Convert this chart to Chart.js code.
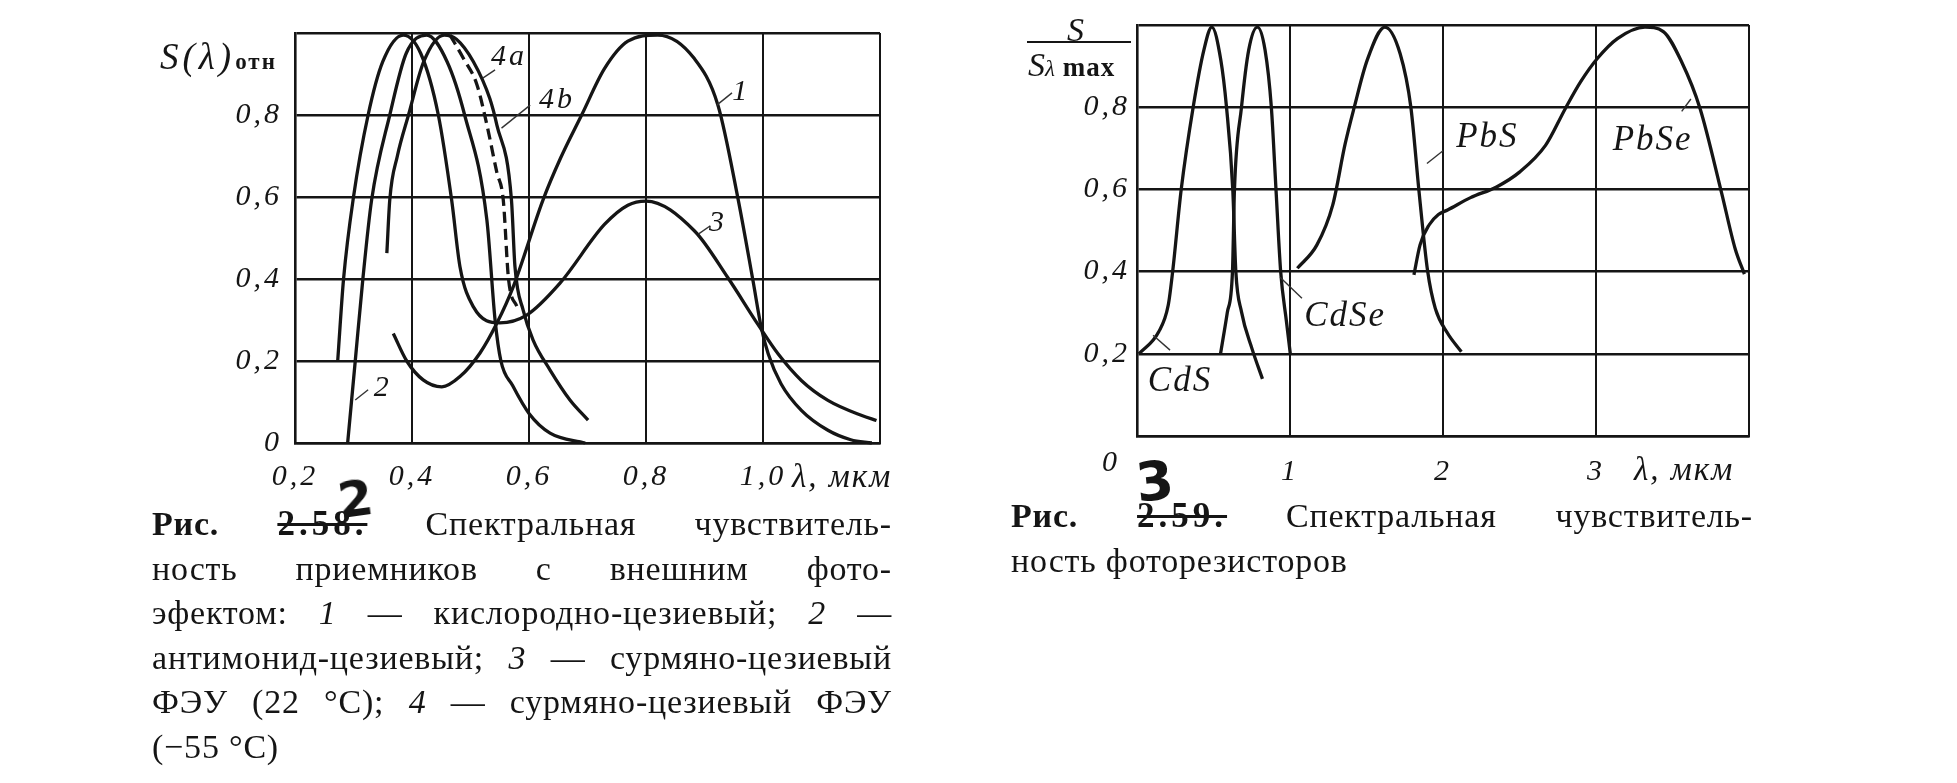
<!DOCTYPE html>
<html>
<head>
<meta charset="utf-8">
<script src="https://cdn.jsdelivr.net/npm/chart.js@4.4.1/dist/chart.umd.min.js"></script>
<style>
  body { margin: 0; background: #fff; width: 1957px; height: 783px; overflow: hidden; position: relative;
         font-family: "Liberation Serif", serif; color: #151515; }
  .box { position: absolute; }
  .t { position: absolute; white-space: nowrap; font-style: italic; font-size: 30px; line-height: 1; letter-spacing: 2px; }
  .cap { position: absolute; font-size: 34px; line-height: 44.6px; letter-spacing: 0.8px; }
  .cap div { text-align: justify; text-align-last: justify; }
  .cap div.last { text-align-last: left; }
  .cap i { font-style: italic; }
  .cap s { font-weight: bold; font-size: 35px; letter-spacing: 4px; text-decoration-thickness: 3px; }
  .hand { position: absolute; font-family: "DejaVu Sans", sans-serif; font-weight: bold; line-height: 1; }
</style>
</head>
<body>

<div class="box" style="left:150px;top:0;width:760px;height:500px"><canvas id="leftChart" width="760" height="500"></canvas></div>
<div class="box" style="left:1000px;top:0;width:790px;height:500px"><canvas id="rightChart" width="790" height="500"></canvas></div>

<!-- axis titles -->
<div class="t" style="left:160px;top:38px;font-size:37px;letter-spacing:4px">S(λ)<span style="font-style:normal;font-weight:bold;font-size:23px;letter-spacing:2px">отн</span></div>
<div class="t" style="left:792px;top:460px;font-size:33px">λ, мкм</div>

<div class="t" style="left:1067px;top:13px;font-size:34px">S</div>
<div style="position:absolute;left:1027px;top:41px;width:104px;height:2px;background:#151515"></div>
<div class="t" style="left:1028px;top:48px;font-size:34px;letter-spacing:0">S<span style="font-size:23px">λ</span><span style="font-style:normal;font-weight:bold;font-size:27px;letter-spacing:1px"> max</span></div>
<div class="t" style="left:1102px;top:446px">0</div>
<div class="t" style="left:1634px;top:453px;font-size:33px">λ, мкм</div>

<!-- captions -->
<div class="hand" style="left:338px;top:474px;font-size:50px;transform:rotate(-8deg)">2</div>
<div class="cap" style="left:152px;top:502px;width:740px">
  <div><b>Рис.</b> <s>2.58.</s> Спектральная чувствитель-</div>
  <div>ность приемников с внешним фото-</div>
  <div>эфектом: <i>1</i> — кислородно-цезиевый; <i>2</i> —</div>
  <div>антимонид-цезиевый; <i>3</i> — сурмяно-цезиевый</div>
  <div>ФЭУ (22 °С); <i>4</i> — сурмяно-цезиевый ФЭУ</div>
  <div class="last">(−55 °С)</div>
</div>

<div class="hand" style="left:1136px;top:455px;font-size:54px;transform:rotate(-6deg)">3</div>
<div class="cap" style="left:1011px;top:494px;width:742px">
  <div><b>Рис.</b> <s>2.59.</s> Спектральная чувствитель-</div>
  <div class="last">ность фоторезисторов</div>
</div>

<script>
// Fig. 2.58 - photocathodes, relative sensitivity vs wavelength (мкм)
let c1Lambda = [0.368, 0.391, 0.419, 0.451, 0.482, 0.516, 0.545, 0.573, 0.624, 0.654, 0.690, 0.729, 0.769,
                0.820, 0.883, 0.923, 0.957, 0.983, 0.997, 1.009, 1.031, 1.066, 1.111, 1.150, 1.186];
let c1S      = [0.267, 0.200, 0.154, 0.137, 0.162, 0.219, 0.292, 0.381, 0.593, 0.695, 0.800, 0.913, 0.980,
                0.995, 0.937, 0.824, 0.598, 0.395, 0.282, 0.217, 0.144, 0.079, 0.031, 0.008, 0.000];

let c2Lambda = [0.290, 0.303, 0.316, 0.331, 0.362, 0.390, 0.425, 0.460, 0.490, 0.528, 0.542, 0.552, 0.572,
                0.600, 0.636, 0.696];
let c2S      = [0.000, 0.200, 0.400, 0.593, 0.800, 0.950, 0.995, 0.930, 0.800, 0.544, 0.300, 0.200, 0.140,
                0.072, 0.024, 0.000];

let c3Lambda = [0.273, 0.283, 0.300, 0.325, 0.350, 0.385, 0.415, 0.445, 0.468, 0.482, 0.505, 0.550, 0.596,
                0.653, 0.729, 0.769, 0.800, 0.883, 0.940, 0.991, 1.026, 1.066, 1.111, 1.169, 1.194];
let c3S      = [0.200, 0.400, 0.600, 0.800, 0.930, 0.995, 0.950, 0.800, 0.590, 0.430, 0.332, 0.293, 0.312,
                0.390, 0.533, 0.580, 0.590, 0.517, 0.403, 0.290, 0.217, 0.152, 0.104, 0.067, 0.055];

let c4aLambda = [0.357, 0.362, 0.375, 0.394, 0.420, 0.455, 0.476, 0.505, 0.533, 0.545, 0.570, 0.576, 0.590,
                 0.607, 0.636, 0.670, 0.701];
let c4aS      = [0.463, 0.593, 0.700, 0.800, 0.930, 0.995, 0.985, 0.930, 0.840, 0.776, 0.593, 0.430, 0.324,
                 0.251, 0.178, 0.105, 0.056];

let c4bLambda = [0.465, 0.488, 0.511, 0.528, 0.545, 0.556, 0.565, 0.580];
let c4bS      = [0.995, 0.938, 0.874, 0.776, 0.660, 0.593, 0.400, 0.330];

// Fig. 2.59 - photoresistors
let cdsLambda = [0.013, 0.141, 0.204, 0.233, 0.289, 0.367, 0.437, 0.489, 0.548, 0.585, 0.626, 0.646, 0.683, 0.752, 0.820];
let cdsS      = [0.200, 0.253, 0.318, 0.400, 0.600, 0.800, 0.939, 0.995, 0.914, 0.800, 0.600, 0.400, 0.302, 0.212, 0.139];

let cdseLambda = [0.546, 0.590, 0.624, 0.637, 0.683, 0.730, 0.787, 0.837, 0.878, 0.909, 0.939, 0.977, 1.002];
let cdseS      = [0.200, 0.300, 0.400, 0.600, 0.800, 0.939, 0.995, 0.939, 0.800, 0.596, 0.400, 0.278, 0.200];

let pbsLambda = [1.048, 1.176, 1.280, 1.360, 1.420, 1.504, 1.620, 1.720, 1.790, 1.843, 1.900, 1.950, 2.030, 2.120];
let pbsS      = [0.408, 0.465, 0.563, 0.710, 0.800, 0.914, 0.995, 0.930, 0.800, 0.596, 0.400, 0.310, 0.250, 0.205];

let pbseLambda = [1.810, 1.850, 1.910, 1.970, 2.030, 2.180, 2.350, 2.500, 2.670, 2.800, 2.900, 3.010, 3.140,
                  3.320, 3.440, 3.560, 3.680, 3.820, 3.910, 3.970];
let pbseS      = [0.392, 0.465, 0.514, 0.539, 0.550, 0.580, 0.606, 0.642, 0.707, 0.797, 0.862, 0.919, 0.967,
                  0.995, 0.984, 0.910, 0.797, 0.593, 0.455, 0.394];

// Ticks
let leftXTicks  = [0.2, 0.4, 0.6, 0.8, 1.0, 1.2];
let leftXLabels = ['0,2', '0,4', '0,6', '0,8', '1,0', ''];
let leftYTicks  = [0, 0.2, 0.4, 0.6, 0.8, 1.0];
let leftYLabels = ['0', '0,2', '0,4', '0,6', '0,8', ''];
let rightXTicks  = [0, 1, 2, 3, 4];
let rightXLabels = ['', '1', '2', '3', ''];
let rightYTicks  = [0, 0.2, 0.4, 0.6, 0.8, 1.0];
let rightYLabels = ['', '0,2', '0,4', '0,6', '0,8', ''];

const INK = '#151515';
const tickFont = { family: 'Liberation Serif', style: 'italic', size: 30 };

function points(xs, ys) {
  return xs.map((v, i) => ({ x: v, y: ys[i] }));
}

function curve(xs, ys, dashed) {
  return {
    data: points(xs, ys),
    borderColor: INK,
    borderWidth: 3.3,
    borderDash: dashed ? [11, 6] : [],
    pointRadius: 0,
    fill: false,
    cubicInterpolationMode: 'monotone',
    clip: false
  };
}

// the scanned figure's italic digits are widely spaced
const spacedText = {
  id: 'spacedText',
  beforeDraw(chart) { chart.ctx.letterSpacing = '3px'; }
};

// draws curve labels and their small leader strokes in data coordinates
const curveLabels = {
  id: 'curveLabels',
  afterDatasetsDraw(chart, args, opts) {
    const ctx = chart.ctx;
    const x = chart.scales.x, y = chart.scales.y;
    ctx.save();
    ctx.strokeStyle = '#333';
    ctx.lineWidth = 1.4;
    (opts.leaders || []).forEach(l => {
      ctx.beginPath();
      ctx.moveTo(x.getPixelForValue(l[0]), y.getPixelForValue(l[1]));
      ctx.lineTo(x.getPixelForValue(l[2]), y.getPixelForValue(l[3]));
      ctx.stroke();
    });
    ctx.fillStyle = INK;
    ctx.textAlign = 'center';
    ctx.textBaseline = 'middle';
    ctx.letterSpacing = (opts.spacing || 2) + 'px';
    (opts.labels || []).forEach(l => {
      ctx.font = 'italic ' + (opts.size || 30) + 'px "Liberation Serif"';
      ctx.fillText(l.text, x.getPixelForValue(l.x), y.getPixelForValue(l.y));
    });
    ctx.restore();
  }
};

function axes(xMin, xMax, xTicks, xLabels, yTicks, yLabels, yWidth, xHeight, yPad, xPad) {
  return {
    x: {
      type: 'linear', min: xMin, max: xMax,
      afterBuildTicks: a => { a.ticks = xTicks.map(v => ({ value: v })); },
      afterFit: a => { a.height = xHeight; },
      ticks: { callback: (v, i) => xLabels[i], font: tickFont, color: INK, padding: xPad, maxRotation: 0, autoSkip: false },
      grid: { color: INK, lineWidth: 2, drawTicks: false },
      border: { display: true, color: INK, width: 2.6 }
    },
    y: {
      type: 'linear', min: 0, max: 1,
      afterBuildTicks: a => { a.ticks = yTicks.map(v => ({ value: v })); },
      afterFit: a => { a.width = yWidth; },
      ticks: { callback: (v, i) => yLabels[i], font: tickFont, color: INK, padding: yPad, autoSkip: false },
      grid: { color: INK, lineWidth: 2.6, drawTicks: false },
      border: { display: true, color: INK, width: 2.6 }
    }
  };
}

new Chart(document.getElementById('leftChart'), {
  type: 'line',
  data: {
    datasets: [
      curve(c1Lambda, c1S),
      curve(c2Lambda, c2S),
      curve(c3Lambda, c3S),
      curve(c4aLambda, c4aS),
      curve(c4bLambda, c4bS, true)
    ]
  },
  options: {
    responsive: false,
    animation: false,
    layout: { padding: { top: 33, right: 30, left: 0, bottom: 0 } },
    scales: axes(0.2, 1.2, leftXTicks, leftXLabels, leftYTicks, leftYLabels, 145, 57, 13, 16),
    plugins: {
      legend: { display: false },
      tooltip: { enabled: false },
      curveLabels: {
        size: 30,
        spacing: 3,
        labels: [
          { text: '1', x: 0.963, y: 0.857 },
          { text: '3', x: 0.923, y: 0.537 },
          { text: '2', x: 0.350, y: 0.135 },
          { text: '4a', x: 0.566, y: 0.941 },
          { text: '4b', x: 0.648, y: 0.837 }
        ],
        leaders: [
          [0.921, 0.824, 0.947, 0.854],
          [0.890, 0.510, 0.910, 0.530],
          [0.303, 0.105, 0.325, 0.130],
          [0.521, 0.890, 0.542, 0.910],
          [0.553, 0.768, 0.602, 0.824]
        ]
      }
    }
  },
  plugins: [spacedText, curveLabels]
});

new Chart(document.getElementById('rightChart'), {
  type: 'line',
  data: {
    datasets: [
      curve(cdsLambda, cdsS),
      curve(cdseLambda, cdseS),
      curve(pbsLambda, pbsS),
      curve(pbseLambda, pbseS)
    ]
  },
  options: {
    responsive: false,
    animation: false,
    layout: { padding: { top: 24, right: 41, left: 0, bottom: 0 } },
    scales: axes(0, 4, rightXTicks, rightXLabels, rightYTicks, rightYLabels, 137, 64, 7, 18),
    plugins: {
      legend: { display: false },
      tooltip: { enabled: false },
      curveLabels: {
        size: 35,
        spacing: 2,
        labels: [
          { text: 'CdS', x: 0.281, y: 0.133 },
          { text: 'CdSe', x: 1.360, y: 0.290 },
          { text: 'PbS', x: 2.290, y: 0.726 },
          { text: 'PbSe', x: 3.370, y: 0.718 }
        ],
        leaders: [
          [0.105, 0.245, 0.216, 0.209],
          [0.935, 0.386, 1.078, 0.335],
          [1.895, 0.663, 2.000, 0.694],
          [3.560, 0.790, 3.620, 0.820]
        ]
      }
    }
  },
  plugins: [spacedText, curveLabels]
});
</script>
</body>
</html>
